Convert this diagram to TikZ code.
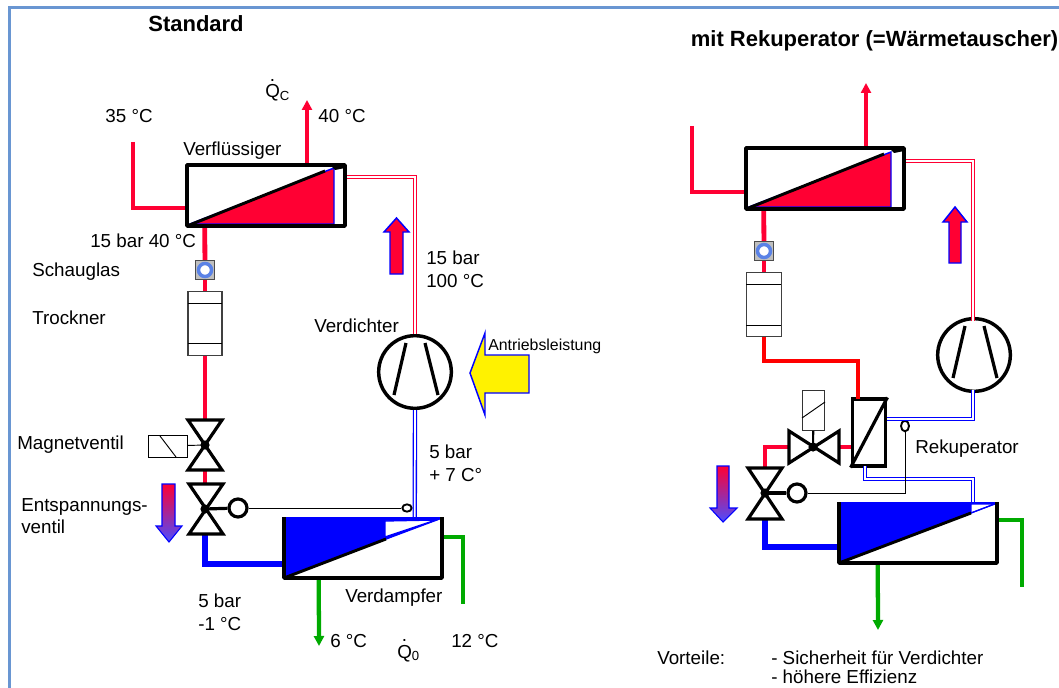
\documentclass[tikz,border=0pt]{standalone}
\usepackage{fontspec}
\setmainfont{Liberation Sans}
\usetikzlibrary{arrows.meta,positioning,calc,shapes.geometric}
\definecolor{hotred}{RGB}{255,0,51}
\definecolor{purered}{RGB}{255,0,0}
\definecolor{coldblue}{RGB}{0,0,255}
\definecolor{watergreen}{RGB}{0,170,0}
\definecolor{framegray}{RGB}{105,150,210}
\definecolor{glassblue}{RGB}{90,130,230}
\newcommand{\qflow}{\makebox[0pt][l]{\hspace{0.25em}\raisebox{0.9em}{.}}Q}
\tikzset{
    caption/.style={inner sep=0pt, align=left, font=\fontsize{14.1}{17}\selectfont},
    heading/.style={inner sep=0pt, font=\bfseries\fontsize{16.5}{19}\selectfont},
    exchanger/.style={draw=none, inner sep=0pt, minimum width=118.5pt, minimum height=45.5pt},
    hxline/.style={draw=black, line width=2.6pt, line join=round},
    hotpipe/.style={draw=hotred, line width=3.6pt, line join=miter},
    redpipe/.style={draw=purered, line width=3.6pt},
    coldpipe/.style={draw=coldblue, line width=3.8pt},
    waterpipe/.style={draw=watergreen, line width=3.2pt},
    hotgas/.style={draw=hotred, line width=1pt, double=white, double distance=1.3pt},
    coldgas/.style={draw=coldblue, line width=1pt, double=white, double distance=1.3pt},
    flowtip/.style={-{Triangle[length=7.5pt,width=7.5pt]}},
    valvepart/.style={draw=black, line width=2.4pt, fill=white, line join=miter},
    thinpart/.style={draw=black, line width=0.7pt},
    dryer/.style={draw=black!75, line width=0.9pt, fill=white, inner sep=0pt},
    blockarrow/.style={draw=coldblue, line width=1.1pt, line join=miter, fill=hotred},
    fadearrow/.style={draw=coldblue, line width=0.8pt, line join=miter, top color=hotred, bottom color=coldblue!70},
    sightbox/.style={rectangle, draw=black!70, fill=black!25, line width=0.6pt, minimum size=14.5pt, inner sep=0pt},
    ringbulb/.style={circle, draw=black, line width=2.4pt, fill=white, minimum size=13.5pt, inner sep=0pt},
    compressor/.style={circle, draw=black, line width=2.6pt, fill=white, minimum size=54.5pt, inner sep=0pt},
}
\begin{document}
\begin{tikzpicture}[x=0.75pt, y=-0.75pt]
\useasboundingbox (0,0) rectangle (1059,688);
\draw[framegray, line width=1.6pt] (9.5,688) -- (9.5,7.5) -- (1059,7.5);

% titles
\node[heading] (titleleft) at (196,24) {Standard};
\node[heading, anchor=east] (titleright) at (1058.5,41) {mit Rekuperator (=Wärmetauscher)};

% ---- standard circuit ----
\node[exchanger] (cond) at (266,195.5) {};
\node[exchanger] (evap) at (363,548) {};
\node[compressor] (comp) at (415,372) {};
\node[rectangle, dryer, minimum width=25.5pt, minimum height=48.5pt] (filter) at (205,323.5) {};
\node[sightbox] (glass) at (205,270) {};
\node[coordinate] (valvea) at (205,445) {};
\node[coordinate] (valveb) at (205,509) {};
\node[coordinate] (hotin) at (133,142) {};
\node[coordinate] (hotout) at (307,100) {};
\node[coordinate] (coldout) at (319,646) {};
\node[coordinate] (coldin) at (463,604) {};
\node[ringbulb] (ring) at (238,508) {};
\node[ellipse, draw=black, line width=1.4pt, fill=white, minimum width=7pt, minimum height=5.5pt, inner sep=0pt] (bulb) at (407,508) {};
\node[rectangle, thinpart, fill=white, minimum width=29.5pt, minimum height=16.5pt, inner sep=0pt] (coil) at (168,446) {};

\draw[hotpipe] (hotin) |- ($(cond.west)+(0,12.5)$);
\draw[hotpipe, flowtip] ($(cond.north)+(41,0)$) -- (hotout);
\draw[hotpipe] ($(cond.south west)+(18,0)$) -- (glass);
\draw[hotpipe] (glass) -- (filter);
\draw[hotpipe] (filter) -- (valvea);
\draw[hotpipe] (valvea) -- (valveb);
\draw[coldpipe] (valveb) |- ($(evap.west)+(0,16)$);
\draw[waterpipe, flowtip] ($(evap.south west)+(35,0)$) -- (coldout);
\draw[waterpipe] ($(evap.east)+(0,-11)$) -| (coldin);
\draw[hotgas] (comp.north) |- ($(cond.north east)+(0,12)$);
\draw[coldgas] ($(evap.north west)+(131,0)$) -- (comp.south);

% condenser
\fill[hotred] (190,224) -- (334,168) -- (334,224) -- cycle;
\draw[coldblue, line width=1.1pt] (190,224) -- (334,168) -- (334,224) -- cycle;
\draw[hxline] (187,165) rectangle (345,226);
\draw[black, line width=2.2pt] (187,226) -- (325,171);
\fill[black] (330,165) -- (345,165) -- (345,168) -- (335,170) -- cycle;
% evaporator
\fill[coldblue] (284,518) -- (442,518) -- (284,578) -- cycle;
\filldraw[fill=white, draw=coldblue, line width=1pt] (385,521) -- (436,520) -- (385,537) -- cycle;
\draw[coldblue, line width=1pt] (386,539) -- (442,518);
\draw[coldblue, line width=1.4pt] (284,518) -- (442,518);
\draw[hxline] (284,517) -- (284,578) -- (442,578) -- (442,517);
\draw[black, line width=2.2pt] (284,578) -- (386,539);
% compressor blades
\draw[black, line width=2.4pt] (406,343) -- (394,395);
\draw[black, line width=2.4pt] (425,343) -- (438,395);
% sight glass
\draw[draw=glassblue, line width=2.6pt, fill=white] (glass) circle (6.5);
% filter bands
\draw[thinpart] (188,303) -- (222,303);
\draw[thinpart] (188,343) -- (222,343);
% valves
\draw[valvepart] (188,420) -- (222,420) -- (188,470) -- (222,470) -- cycle;
\draw[valvepart] (189,484) -- (223,484) -- (189,534) -- (223,534) -- cycle;
\fill[black] (valvea) circle (4.6);
\fill[black] (valveb) circle (4.6);
\draw[thinpart] (coil) -- (valvea);
\draw[thinpart] (160,436) -- (176,457);
\draw[black, line width=2.4pt] (valveb) -- (ring);
\draw[thinpart] (ring) -- (bulb);
% flow arrows
\draw[blockarrow] (390,274) -- (390,232) -- (384,232) -- (396.5,218) -- (409,232) -- (403,232) -- (403,274) -- cycle;
\draw[blockarrow, fill=yellow] (529,355) -- (485,355) -- (485,333) -- (470,373) -- (485,415) -- (485,393) -- (529,393) -- cycle;
\draw[fadearrow] (162,484) -- (175,484) -- (175,526) -- (182,526) -- (169,542) -- (156,526) -- (162,526) -- cycle;

% labels
\node[caption] (tin) at (129,116) {35 °C};
\node[caption] (tout) at (342,116) {40 °C};
\node[caption, anchor=base west] (qc) at (265,98) {\qflow\textsubscript{C}};
\node[caption, anchor=west] (lcond) at (183,151) {Verflüssiger};
\node[caption, anchor=west] (lp1) at (90,241) {15 bar 40 °C};
\node[caption, anchor=west] (lglass) at (32,272) {Schauglas};
\node[caption, anchor=west] (lfilter) at (32,318) {Trockner};
\node[caption, anchor=west] (lcomp) at (314,326) {Verdichter};
\node[caption, anchor=west] (lp2) at (426,269) {15 bar\\100 °C};
\node[caption, anchor=west, font=\fontsize{11.9}{13}\selectfont] (lpower) at (488,346) {Antriebsleistung};
\node[caption, anchor=west] (lp3) at (429,463) {5 bar\\+ 7 C°};
\node[caption, anchor=west] (lmag) at (17,445) {Magnetventil};
\node[caption, anchor=west] (lexp) at (21,516) {Entspannungs-\\ventil};
\node[caption, anchor=west] (lp4) at (198,612) {5 bar\\-1 °C};
\node[caption, anchor=west] (levap) at (345,598) {Verdampfer};
\node[caption, anchor=west] (tcold) at (330,641) {6 °C};
\node[caption, anchor=base west] (q0) at (397,658) {\qflow\textsubscript{0}};
\node[caption, anchor=west] (twarm) at (451,641) {12 °C};

% ---- circuit with recuperator ----
\node[exchanger] (condr) at (825,178.5) {};
\node[exchanger] (evapr) at (918,533) {};
\node[compressor] (compr) at (974,355) {};
\node[rectangle, dryer, minimum width=26pt, minimum height=48.5pt] (filterr) at (764,304.5) {};
\node[sightbox] (glassr) at (764,251) {};
\node[rectangle, draw=black, line width=2.6pt, fill=white, minimum width=25pt, minimum height=50pt, inner sep=0pt] (recup) at (869,432.5) {};
\node[coordinate] (valvec) at (813,447) {};
\node[coordinate] (valved) at (765,493) {};
\node[coordinate] (hotinr) at (692,126) {};
\node[coordinate] (hotoutr) at (866,83) {};
\node[coordinate] (coldoutr) at (878,630) {};
\node[coordinate] (coldinr) at (1022,587) {};
\node[coordinate] (bendr) at (973,419) {};
\node[coordinate] (benda) at (865,479) {};
\node[coordinate] (bendb) at (858,361) {};
\node[coordinate] (bendc) at (858,399) {};
\node[coordinate] (bendd) at (865,466) {};
\node[coordinate] (bende) at (973,390) {};
\node[coordinate] (bendf) at (973,321) {};
\node[ringbulb] (ringr) at (797,493) {};
\node[ellipse, draw=black, line width=1.4pt, fill=white, minimum width=6pt, minimum height=8pt, inner sep=0pt] (bulbr) at (905,426) {};
\node[rectangle, draw=black!80, line width=0.9pt, fill=white, minimum width=17pt, minimum height=29.5pt, inner sep=0pt] (coilr) at (813.5,410.5) {};

\draw[hotpipe] (hotinr) |- ($(condr.west)+(0,13.5)$);
\draw[hotpipe, flowtip] ($(condr.north)+(41,0)$) -- (hotoutr);
\draw[hotpipe] ($(condr.south west)+(18,0)$) -- (glassr);
\draw[hotpipe] (glassr) -- (filterr);
\draw[redpipe] (filterr) |- (bendb) -- (bendc);
\draw[hotpipe] (valvec) -- ($(recup.west)+(0,14.5)$);
\draw[hotpipe] (valvec) -| (valved);
\draw[coldpipe] (valved) |- ($(evapr.west)+(0,14)$);
\draw[waterpipe, flowtip] ($(evapr.south west)+(39,0)$) -- (coldoutr);
\draw[waterpipe] ($(evapr.east)+(0,-13)$) -| (coldinr);
\draw[hotgas] (bendf) |- ($(condr.north east)+(0,13)$);
\draw[coldgas] (bende) -- (bendr) -- (recup.east |- bendr);
\draw[coldgas] (bendd) -- (benda) -| ($(evapr.north west)+(134,0)$);

% condenser
\fill[hotred] (749,207) -- (891,152) -- (891,207) -- cycle;
\draw[coldblue, line width=1.1pt] (749,207) -- (891,152) -- (891,207) -- cycle;
\draw[hxline] (746,148) rectangle (904,209);
\draw[black, line width=2.2pt] (746,209) -- (884,154);
\fill[black] (889,148) -- (904,148) -- (904,151) -- (894,153) -- cycle;
% evaporator
\fill[coldblue] (839,503) -- (997,503) -- (839,563) -- cycle;
\filldraw[fill=white, draw=coldblue, line width=0.8pt] (971,504) -- (995,504) -- (971,513) -- cycle;
\draw[coldblue, line width=1pt] (971,513) -- (997,503);
\draw[coldblue, line width=1.4pt] (839,503) -- (997,503);
\draw[hxline] (839,502) -- (839,563) -- (997,563) -- (997,502);
\draw[black, line width=2.2pt] (839,563) -- (971,513);
% compressor blades
\draw[black, line width=2.4pt] (965,326) -- (953,378);
\draw[black, line width=2.4pt] (984,326) -- (997,378);
% sight glass
\draw[draw=glassblue, line width=2.6pt, fill=white] (glassr) circle (6.5);
% filter bands
\draw[thinpart] (746,284) -- (781,284);
\draw[thinpart] (746,325) -- (781,325);
% recuperator diagonal
\draw[black, line width=2.4pt] (recup.south west) -- (recup.north east);
% valves
\draw[valvepart] (789,431) -- (789,463) -- (839,431) -- (839,463) -- cycle;
\draw[valvepart] (748,468) -- (782,468) -- (748,519) -- (782,519) -- cycle;
\fill[black] (valvec) circle (4.6);
\fill[black] (valved) circle (4.6);
\draw[black, line width=1.6pt] (coilr) -- (valvec);
\draw[thinpart] (802,418) -- (825,402);
\draw[black, line width=2.4pt] (valved) -- (ringr);
\draw[thinpart] (ringr) -- (905,493) -- (bulbr);
% flow arrows
\draw[blockarrow] (949,263) -- (949,222) -- (943,222) -- (955,207) -- (967,222) -- (961,222) -- (961,263) -- cycle;
\draw[fadearrow] (717,466) -- (729,466) -- (729,508) -- (737,508) -- (723,522) -- (710,508) -- (717,508) -- cycle;

% labels
\node[caption, anchor=west] (lrecup) at (915,449) {Rekuperator};
\node[caption, anchor=base west] (lpro) at (657,664) {Vorteile:};
\node[caption, anchor=base west] (lpro1) at (771,664) {- Sicherheit für Verdichter};
\node[caption, anchor=base west] (lpro2) at (771,683) {- höhere Effizienz};
\end{tikzpicture}
\end{document}
